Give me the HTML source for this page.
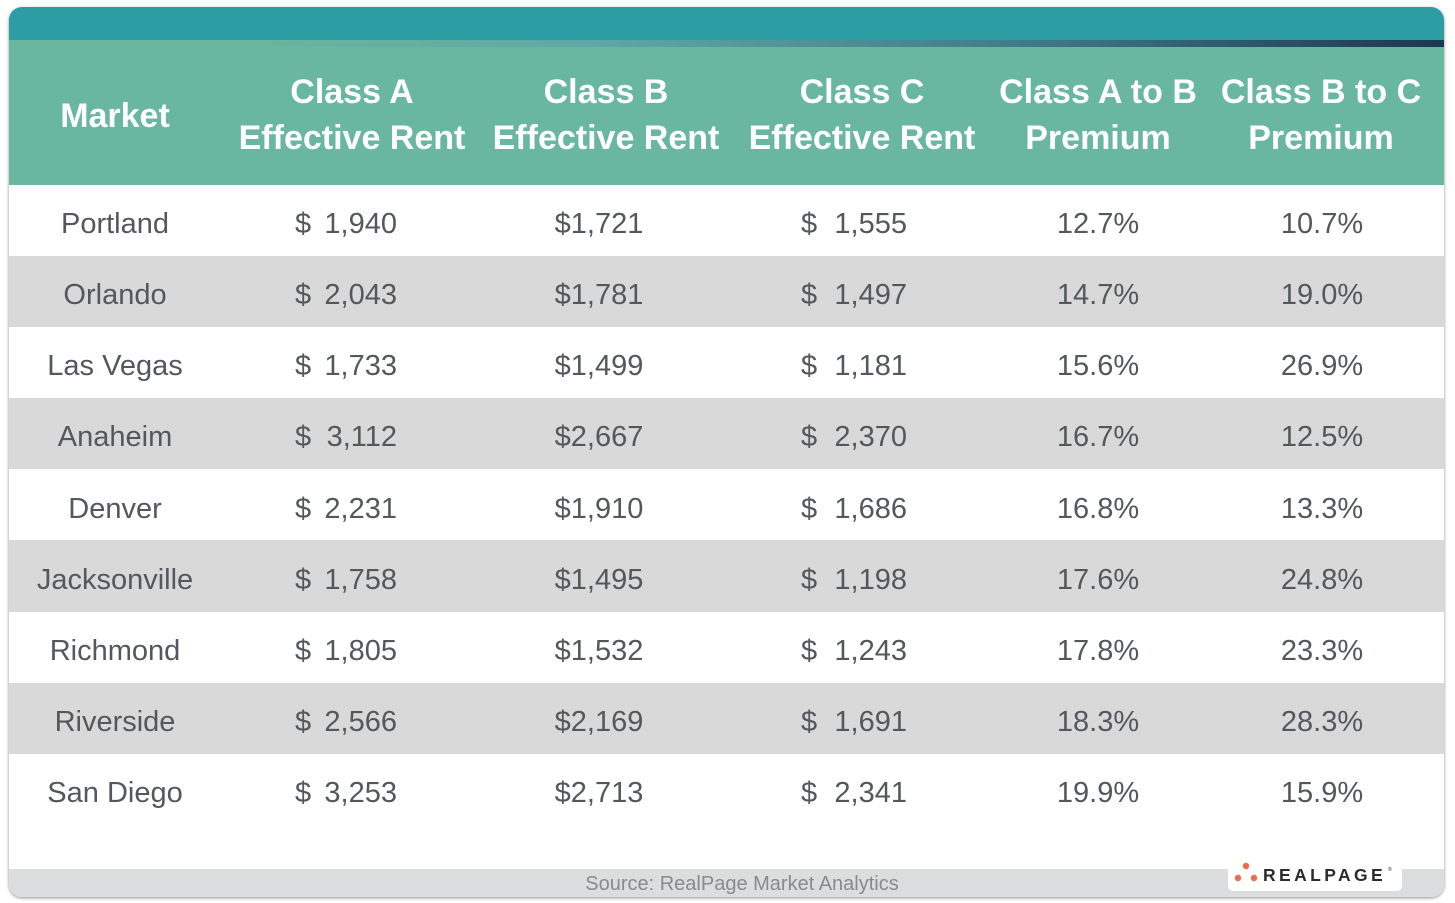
<!DOCTYPE html>
<html><head><meta charset="utf-8"><style>
html,body{margin:0;padding:0;background:#fff;width:1455px;height:903px;overflow:hidden}
svg{display:block}
text{font-family:"Liberation Sans",sans-serif}
</style></head><body>
<svg width="1455" height="903" viewBox="0 0 1455 903" xmlns="http://www.w3.org/2000/svg">
<defs>
<clipPath id="card"><rect x="9" y="7" width="1435" height="890" rx="13" ry="13"/></clipPath>
<linearGradient id="strip" x1="0" x2="1" y1="0" y2="0">
<stop offset="0" stop-color="#69b79e"/>
<stop offset="0.15" stop-color="#69b79e"/>
<stop offset="0.4" stop-color="#5fa9a6"/>
<stop offset="0.7" stop-color="#427c8a"/>
<stop offset="1" stop-color="#1d3652"/>
</linearGradient>
<filter id="sh" x="-2%" y="-2%" width="104%" height="104%"><feDropShadow dx="0" dy="1" stdDeviation="1.5" flood-color="#000" flood-opacity="0.45"/></filter>
</defs>
<rect x="9" y="7" width="1435" height="890" rx="13" ry="13" fill="#fff" filter="url(#sh)"/>
<g clip-path="url(#card)">
<rect x="0" y="0" width="1455" height="41" fill="#2c9da3"/>
<rect x="0" y="40" width="1455" height="145" fill="#69b79e"/>
<rect x="9" y="40" width="1435" height="7" fill="url(#strip)"/>
<rect x="0" y="185" width="1455" height="71" fill="#fff"/>
<rect x="0" y="256" width="1455" height="71" fill="#d9d9d9"/>
<rect x="0" y="398" width="1455" height="71" fill="#d9d9d9"/>
<rect x="0" y="540" width="1455" height="72" fill="#d9d9d9"/>
<rect x="0" y="683" width="1455" height="71" fill="#d9d9d9"/>
<rect x="0" y="869" width="1455" height="40" fill="#dcdddf"/>
</g>
<g fill="#fff" font-size="34" font-weight="bold" text-anchor="middle">
<text x="115" y="127">Market</text>
<text x="352" y="103">Class A</text><text x="352" y="149">Effective Rent</text>
<text x="606" y="103">Class B</text><text x="606" y="149">Effective Rent</text>
<text x="862" y="103">Class C</text><text x="862" y="149">Effective Rent</text>
<text x="1098" y="103">Class A to B</text><text x="1098" y="149">Premium</text>
<text x="1321" y="103">Class B to C</text><text x="1321" y="149">Premium</text>
</g>
<g fill="#53585c" font-size="29">
<g text-anchor="middle">
<text x="115" y="233">Portland</text>
<text x="115" y="304">Orlando</text>
<text x="115" y="375">Las Vegas</text>
<text x="115" y="446">Anaheim</text>
<text x="115" y="518">Denver</text>
<text x="115" y="589">Jacksonville</text>
<text x="115" y="660">Richmond</text>
<text x="115" y="731">Riverside</text>
<text x="115" y="802">San Diego</text>
</g>
<g>
<text x="295" y="233">$</text><text x="295" y="304">$</text><text x="295" y="375">$</text><text x="295" y="446">$</text><text x="295" y="518">$</text><text x="295" y="589">$</text><text x="295" y="660">$</text><text x="295" y="731">$</text><text x="295" y="802">$</text>
<text x="801" y="233">$</text><text x="801" y="304">$</text><text x="801" y="375">$</text><text x="801" y="446">$</text><text x="801" y="518">$</text><text x="801" y="589">$</text><text x="801" y="660">$</text><text x="801" y="731">$</text><text x="801" y="802">$</text>
</g>
<g text-anchor="end">
<text x="397" y="233">1,940</text><text x="397" y="304">2,043</text><text x="397" y="375">1,733</text><text x="397" y="446">3,112</text><text x="397" y="518">2,231</text><text x="397" y="589">1,758</text><text x="397" y="660">1,805</text><text x="397" y="731">2,566</text><text x="397" y="802">3,253</text>
<text x="907" y="233">1,555</text><text x="907" y="304">1,497</text><text x="907" y="375">1,181</text><text x="907" y="446">2,370</text><text x="907" y="518">1,686</text><text x="907" y="589">1,198</text><text x="907" y="660">1,243</text><text x="907" y="731">1,691</text><text x="907" y="802">2,341</text>
</g>
<g text-anchor="middle">
<text x="599" y="233">$1,721</text><text x="599" y="304">$1,781</text><text x="599" y="375">$1,499</text><text x="599" y="446">$2,667</text><text x="599" y="518">$1,910</text><text x="599" y="589">$1,495</text><text x="599" y="660">$1,532</text><text x="599" y="731">$2,169</text><text x="599" y="802">$2,713</text>
<text x="1098" y="233">12.7%</text><text x="1098" y="304">14.7%</text><text x="1098" y="375">15.6%</text><text x="1098" y="446">16.7%</text><text x="1098" y="518">16.8%</text><text x="1098" y="589">17.6%</text><text x="1098" y="660">17.8%</text><text x="1098" y="731">18.3%</text><text x="1098" y="802">19.9%</text>
<text x="1322" y="233">10.7%</text><text x="1322" y="304">19.0%</text><text x="1322" y="375">26.9%</text><text x="1322" y="446">12.5%</text><text x="1322" y="518">13.3%</text><text x="1322" y="589">24.8%</text><text x="1322" y="660">23.3%</text><text x="1322" y="731">28.3%</text><text x="1322" y="802">15.9%</text>
</g>
</g>
<text x="742" y="890" fill="#8a8a8a" font-size="20" text-anchor="middle">Source: RealPage Market Analytics</text>
<path d="M1228 869 H1402 V885 Q1402 891 1396 891 H1234 Q1228 891 1228 885 Z" fill="#fff"/>
<circle cx="1246" cy="866" r="3.2" fill="#f06b4b"/>
<circle cx="1238" cy="878" r="3.2" fill="#f06b4b"/>
<circle cx="1254" cy="878" r="3.2" fill="#f06b4b"/>
<text x="1263" y="881" fill="#2b2b2b" font-size="17.5" font-weight="bold" letter-spacing="3.4">REALPAGE</text>
<text x="1388" y="871" fill="#2b2b2b" font-size="5">®</text>
</svg>
</body></html>
